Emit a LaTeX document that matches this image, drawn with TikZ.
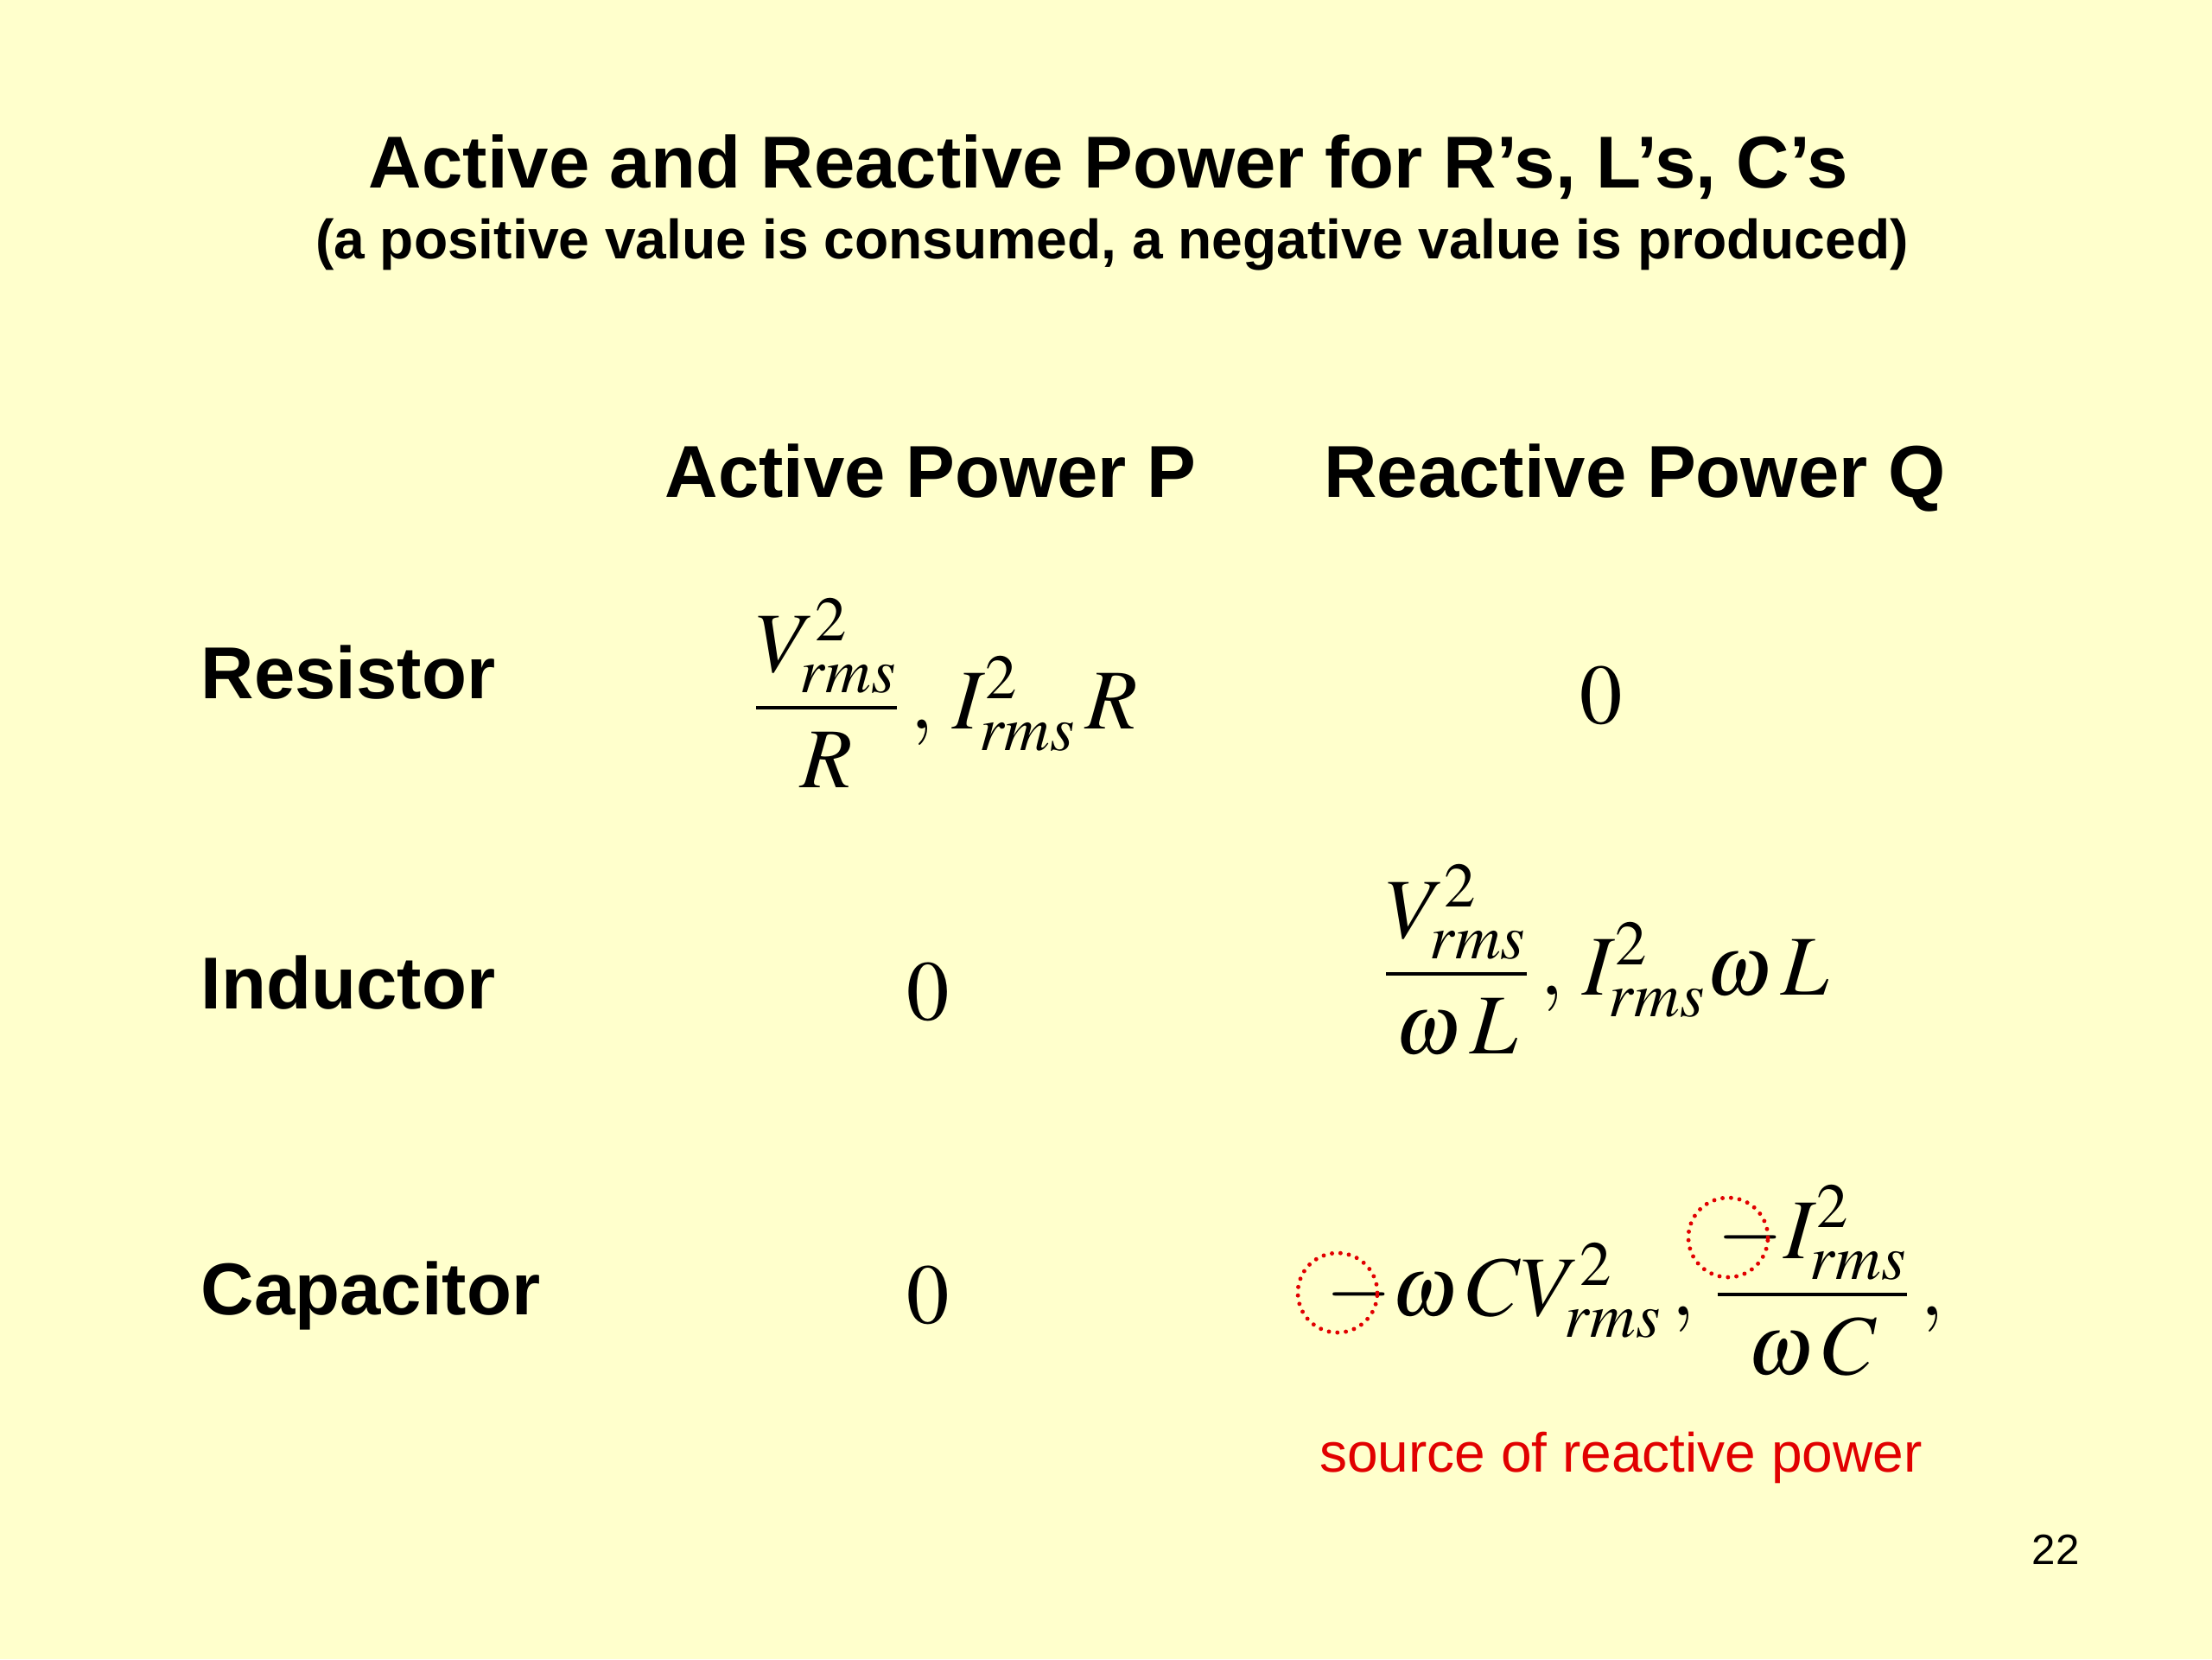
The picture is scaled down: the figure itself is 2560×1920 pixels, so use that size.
\documentclass[tikz,border=0pt]{standalone}
\usepackage{amsmath}
\usepackage{mathptmx}
\usepackage[no-math]{fontspec}
\setmainfont{Liberation Sans}
\usepackage{xcolor}
\definecolor{slidebg}{RGB}{255,255,204}
\definecolor{srcred}{RGB}{225,0,0}

\begin{document}
\begin{tikzpicture}[x=0.01cm,y=-0.01cm,
    every node/.style={inner sep=0pt,align=center},
    heading/.style={anchor=base,font=\bfseries\fontsize{24.2}{29}\selectfont},
    rowname/.style={anchor=base west,font=\bfseries\fontsize{24.2}{29}\selectfont},
    formula/.style={font=\fontsize{28}{34}\selectfont},
    ring/.style={shape=circle,draw=srcred,line width=1.4pt,line cap=round,
                 dash pattern=on 0pt off 2.8pt,minimum size=0.92cm}]
  \path[fill=slidebg] (0,0) rectangle (2560,1920);
  % title lines
  \node[font=\bfseries\fontsize{24.2}{29}\selectfont] (title) at (1283,193) {Active and Reactive Power for R’s, L’s, C’s};
  \node[font=\bfseries\fontsize{18.25}{22}\selectfont] (subtitle) at (1287,283) {(a positive value is consumed, a negative value is produced)};
  % column and row heads
  \node[heading] (hdrP) at (1077,575) {Active Power P};
  \node[heading] (hdrQ) at (1892,575) {Reactive Power Q};
  \node[rowname] (res) at (232,808) {Resistor};
  \node[rowname] (ind) at (232,1167) {Inductor};
  \node[rowname] (cap) at (232,1521) {Capacitor};
  % entries
  \node[formula] (resP) at (1094,802) {$\dfrac{V_{rms}^{2}}{R}\,,\,I_{rms}^{2}\,R$};
  \node[formula] (resQ) at (1853,805) {$0$};
  \node[formula] (indP) at (1074,1148) {$0$};
  \node[formula] (indQ) at (1858,1111) {$\dfrac{V_{rms}^{2}}{\omega\mspace{2mu}L}\,,\,I_{rms}^{2}\omega\mspace{2mu}L$};
  \node[formula] (capP) at (1074,1499) {$0$};
  \node[formula] (capQ) at (1892,1482) {$-\omega\mspace{2mu}CV_{rms}^{2}\,,\,\dfrac{-I_{rms}^{2}}{\omega\mspace{2mu}C}\,,$};
  \node[ring] (ringA) at (1548,1496) {};
  \node[ring] (ringB) at (2000,1432) {};
  \node[font=\fontsize{18.2}{22}\selectfont,text=srcred] (src) at (1876,1687) {source of reactive power};
  \node[font=\fontsize{14}{17}\selectfont] (pagenum) at (2379,1793) {22};
\end{tikzpicture}
\end{document}
